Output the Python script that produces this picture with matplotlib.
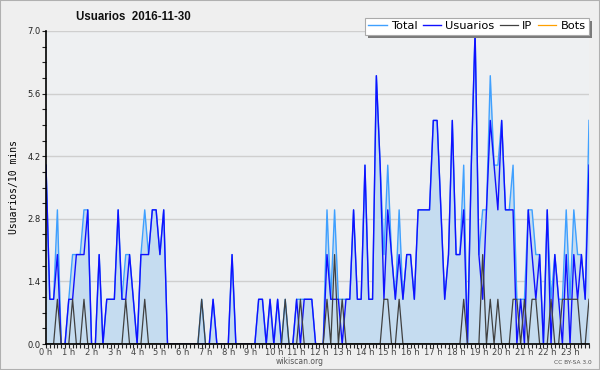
import matplotlib
matplotlib.use('Agg')
import matplotlib.pyplot as plt
import numpy as np
from matplotlib.patches import Rectangle

# 10-minute buckets over the day (144 points)
total = [4, 1, 1, 3, 0, 0, 1, 2, 2, 2, 3, 3, 0, 0, 2, 0, 1, 1, 1, 3,
         1, 2, 2, 1, 0, 2, 3, 2, 3, 3, 2, 3, 0, 0, 0, 0, 0, 0, 0, 0,
         0, 1, 0, 0, 1, 0, 0, 0, 0, 2, 0, 0, 0, 0, 0, 0, 1, 1, 0, 1,
         0, 1, 0, 1, 0, 0, 1, 1, 1, 1, 1, 0, 0, 0, 3, 1, 3, 1, 1, 1,
         1, 3, 1, 1, 4, 1, 1, 6, 4, 2, 4, 2, 1, 3, 1, 2, 2, 1, 3, 3,
         3, 3, 5, 5, 3, 1, 2, 5, 2, 2, 4, 0, 4, 7, 2, 3, 3, 6, 4, 4,
         5, 3, 3, 4, 1, 1, 1, 3, 3, 2, 2, 0, 3, 1, 2, 1, 1, 3, 1, 3,
         2, 2, 1, 5]
usuarios = [4, 1, 1, 2, 0, 0, 1, 1, 2, 2, 2, 3, 0, 0, 2, 0, 1, 1, 1, 3,
            1, 1, 2, 1, 0, 2, 2, 2, 3, 3, 2, 3, 0, 0, 0, 0, 0, 0, 0, 0,
            0, 0, 0, 0, 1, 0, 0, 0, 0, 2, 0, 0, 0, 0, 0, 0, 1, 1, 0, 1,
            0, 1, 0, 0, 0, 0, 1, 0, 1, 1, 1, 0, 0, 0, 2, 1, 1, 1, 0, 1,
            1, 3, 1, 1, 4, 1, 1, 6, 4, 1, 3, 2, 1, 2, 1, 2, 2, 1, 3, 3,
            3, 3, 5, 5, 3, 1, 2, 5, 2, 2, 3, 0, 4, 7, 2, 1, 3, 5, 4, 3,
            5, 3, 3, 3, 0, 1, 0, 3, 2, 1, 2, 0, 3, 0, 2, 1, 0, 2, 0, 2,
            1, 2, 1, 4]
ip = [t - u for t, u in zip(total, usuarios)]
bots = [0] * len(total)
hour_labels = [f"{h} h" for h in range(24)]

x = np.arange(len(total))

fig = plt.figure(figsize=(6, 3.7), dpi=100, facecolor='#efefef')
ax = fig.add_axes([46/600, 26/370, 543/600, 313/370])
ax.set_facecolor('#eef0f2')

ax.fill_between(x, total, 0, color='#c5dcf0', linewidth=0)
ax.plot(x, total, color='#3fa0ff', lw=1.0, label='Total')
ax.plot(x, usuarios, color='#1010ff', lw=1.0, label='Usuarios')
ax.plot(x, ip, color='#404040', lw=0.9, label='IP')
ax.plot(x, bots, color='#ffa000', lw=0.9, label='Bots')

ax.set_xlim(0, 143)
ax.set_ylim(0, 7.0)
ax.set_yticks(np.arange(0, 7.01, 1.4))
ax.set_yticklabels([f"{v:.1f}" for v in np.arange(0, 7.01, 1.4)])
ax.set_yticks(np.arange(0, 7.01, 0.35), minor=True)
ax.set_xticks(np.arange(0, 144, 6))
ax.set_xticklabels(hour_labels)
ax.set_xticks(np.arange(0, 144, 1), minor=True)
ax.grid(axis='y', which='major', color='#cfcfcf', lw=1.0)
ax.set_axisbelow(True)

for s in ['top', 'right']:
    ax.spines[s].set_visible(False)
for s in ['left', 'bottom']:
    ax.spines[s].set_linewidth(1.2)
    ax.spines[s].set_zorder(5)

ax.tick_params(axis='both', which='both', direction='out', length=3,
               width=0.8, labelsize=6, colors='#222222', pad=1)
ax.tick_params(axis='x', which='both', labelcolor='#444444', pad=0)

ax.set_ylabel('Usuarios/10 mins', family='DejaVu Sans Mono', fontsize=7, labelpad=6)

fig.text(133/600, 1 - 17/370, 'Usuarios  2016-11-30', ha='center', va='center',
         fontsize=8.3, fontweight='bold', family='Liberation Sans', color='#111111')

leg = fig.legend(loc='upper right', bbox_to_anchor=(589/600, 1 - 18/370), ncol=4,
                 fontsize=8.2, handlelength=1.6, handletextpad=0.35, columnspacing=0.5,
                 borderpad=0.3, frameon=True, fancybox=False, shadow=False,
                 borderaxespad=0)
leg.get_frame().set_edgecolor('#aaaaaa')
leg.get_frame().set_linewidth(0.8)
leg.get_frame().set_alpha(1.0)

# small hard shadow behind the legend box
fig.canvas.draw()
bb = leg.get_window_extent().transformed(fig.transFigure.inverted())
fig.add_artist(Rectangle((bb.x0 + 3/600, bb.y0 - 3/370), bb.width, bb.height,
                         transform=fig.transFigure, facecolor='#7a7a7a',
                         edgecolor='none', zorder=leg.get_zorder() - 1))

fig.text(0.5, 1 - 362/370, 'wikiscan.org', ha='center', va='center',
         fontsize=5.5, color='#555555')
fig.text(592/600, 1 - 362/370, 'CC BY-SA 3.0', ha='right', va='center',
         fontsize=4.2, color='#555555')

fig.patches.append(Rectangle((0, 0), 1, 1, transform=fig.transFigure, fill=False,
                             edgecolor='#b0b0b0', lw=1.5))

fig.savefig('out.png', dpi=100, facecolor=fig.get_facecolor())
